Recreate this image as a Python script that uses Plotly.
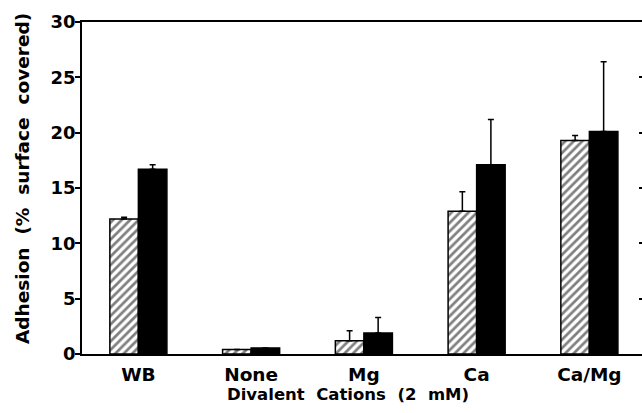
import plotly.graph_objects as go

categories = ["WB", "None", "Mg", "Ca", "Ca/Mg"]
hatched_vals = [12.2, 0.4, 1.2, 12.9, 19.3]
hatched_err = [0.15, 0.0, 0.9, 1.75, 0.45]
solid_vals = [16.7, 0.55, 1.9, 17.1, 20.1]
solid_err = [0.4, 0.0, 1.4, 4.1, 6.3]
y_ticks = [0, 5, 10, 15, 20, 25, 30]

font_fam = "DejaVu Sans, Arial, sans-serif"

fig = go.Figure()
fig.add_trace(go.Bar(
    x=categories, y=hatched_vals,
    marker=dict(color="white", line=dict(color="black", width=1.5),
                pattern=dict(shape="/", fgcolor="black", bgcolor="white",
                             size=6, solidity=0.45, fillmode="overlay")),
    error_y=dict(type="data", array=hatched_err, arrayminus=[0]*5, symmetric=False,
                 color="black", thickness=1.5, width=3),
    showlegend=False,
))
fig.add_trace(go.Bar(
    x=categories, y=solid_vals,
    marker=dict(color="black", line=dict(color="black", width=1.5)),
    error_y=dict(type="data", array=solid_err, arrayminus=[0]*5, symmetric=False,
                 color="black", thickness=1.5, width=3),
    showlegend=False,
))
# invisible trace to anchor right-side tick axis
fig.add_trace(go.Scatter(x=[categories[0]], y=[0], yaxis="y2", mode="markers",
                         marker=dict(opacity=0), showlegend=False, hoverinfo="skip"))

W, H = 642, 413
L, R, T, B = 82, 0, 22, 59
pw = W - L - R
ph = H - T - B
cat_px = 112.75

fig.update_layout(
    width=W, height=H,
    margin=dict(l=L, r=R, t=T, b=B),
    paper_bgcolor="white", plot_bgcolor="white",
    barmode="group", bargap=0.494, bargroupgap=0,
    font=dict(family=font_fam, size=18, color="black"),
    xaxis=dict(
        type="category", range=[-0.5, -0.5 + pw / cat_px],
        showline=True, linecolor="black", linewidth=1.5, mirror=True,
        ticks="", showgrid=False, zeroline=False,
        tickfont=dict(family=font_fam, size=18.5, weight="bold"),
        ticklabelstandoff=3,
    ),
    yaxis=dict(
        range=[0, 30], tickvals=y_ticks,
        showline=True, linecolor="black", linewidth=1.5,
        ticks="outside", ticklen=5, tickwidth=1.5, tickcolor="black",
        showgrid=False, zeroline=False,
        tickfont=dict(family=font_fam, size=18, weight="bold"),
        ticklabelstandoff=-4,
    ),
    yaxis2=dict(
        overlaying="y", side="right", range=[0, 30], tickvals=y_ticks[1:-1],
        ticks="inside", ticklen=3, tickwidth=1.5, tickcolor="black",
        showline=False, showgrid=False, zeroline=False, showticklabels=False,
    ),
    annotations=[
        dict(text="<b>Divalent&nbsp;&nbsp;Cations&nbsp;&nbsp;(2&nbsp;&nbsp;mM)</b>",
             xref="paper", yref="paper",
             x=(348 - L) / pw, y=(354 - 394) / ph, xanchor="center", yanchor="middle",
             showarrow=False, font=dict(family=font_fam, size=16.5)),
        dict(text="<b>Adhesion&nbsp;&nbsp;(%&nbsp;&nbsp;surface&nbsp;&nbsp;covered)</b>",
             xref="paper", yref="paper",
             x=(22 - L) / pw, y=(354 - 179) / ph, xanchor="center", yanchor="middle",
             textangle=-90, showarrow=False, font=dict(family=font_fam, size=18.5)),
    ],
)

fig.write_html("out.html")
